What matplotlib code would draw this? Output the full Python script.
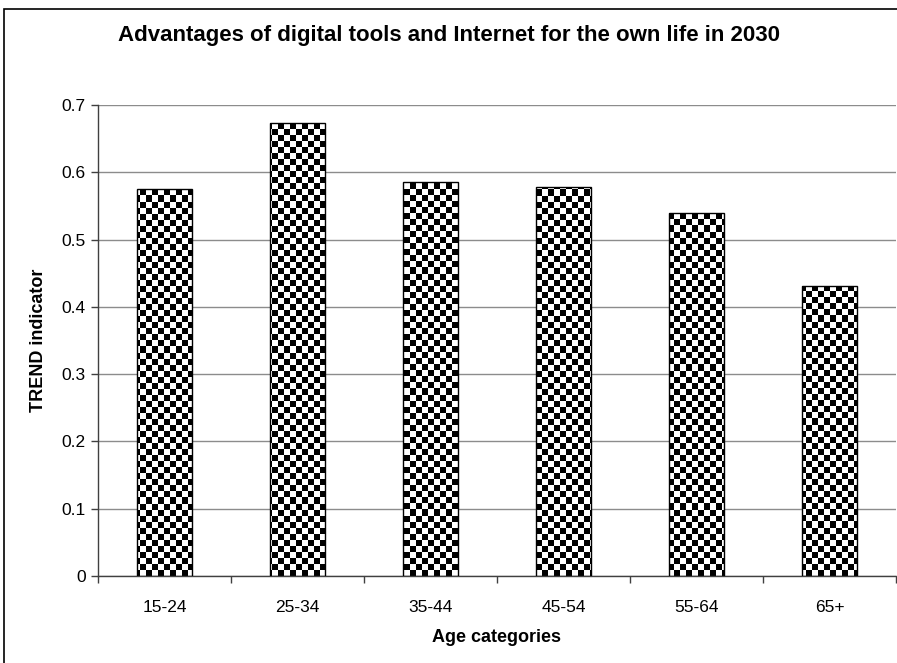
import numpy as np
import matplotlib.pyplot as plt
from matplotlib.patches import Rectangle

plt.rcParams['font.family'] = ['Liberation Sans', 'DejaVu Sans']

# data
categories = ['15-24', '25-34', '35-44', '45-54', '55-64', '65+']
trend = [0.575, 0.673, 0.586, 0.578, 0.539, 0.431]

W, H = 897, 663
fig = plt.figure(figsize=(W / 100, H / 100), dpi=100)
ax = fig.add_axes([98 / W, 1 - 576 / H, 798 / W, 471 / H])

x = np.arange(len(categories))
bars = ax.bar(x, trend, width=0.41, color='none', edgecolor='black', linewidth=1.0, zorder=3)

# checkerboard texture, clipped to each bar
sq = 6.0
ncol = int(798 / sq)
nrow = int(471 / sq)
ii, jj = np.indices((nrow, ncol))
checker = ((ii + jj) % 2).astype(float)
for b in bars:
    im = ax.imshow(checker, cmap='gray', vmin=0, vmax=1, interpolation='nearest',
                   extent=(-0.5, len(categories) - 0.5, 0, 0.7), aspect='auto',
                   origin='lower', zorder=2)
    im.set_clip_path(b)
ax.set_xlim(-0.5, len(categories) - 0.5)
ax.set_ylim(0, 0.7)

ax.set_yticks(np.arange(0, 0.71, 0.1))
ax.set_yticklabels(['0', '0.1', '0.2', '0.3', '0.4', '0.5', '0.6', '0.7'])
ax.yaxis.grid(True, color='#8c8c8c', linewidth=1.0, zorder=0)
ax.set_axisbelow(True)

ax.set_xticks(np.arange(-0.5, len(categories), 1.0))
ax.set_xticklabels([])
ax.set_xticks(x, minor=True)
ax.set_xticklabels(categories, minor=True)
ax.tick_params(axis='x', which='minor', length=0, pad=17, labelsize=12.5)
ax.tick_params(axis='x', which='major', length=5, width=1, direction='out', color='#404040')
ax.tick_params(axis='y', length=5, width=1, direction='out', color='#404040', labelsize=12.5, pad=4)

for s in ['top', 'right']:
    ax.spines[s].set_visible(False)
for s in ['left', 'bottom']:
    ax.spines[s].set_color('#404040')
    ax.spines[s].set_linewidth(1.0)

ax.set_ylabel('TREND indicator', fontsize=13, fontweight='bold', labelpad=10)
ax.set_xlabel('Age categories', fontsize=13, fontweight='bold', labelpad=10)

fig.text(0.5, 1 - 36 / H, 'Advantages of digital tools and Internet for the own life in 2030',
         ha='center', va='center', fontsize=16, fontweight='bold')

# outer chart frame
fig.patches.append(Rectangle((4 / W, 0 - 0.01), 1.0, 1 - 9 / H + 0.01, transform=fig.transFigure,
                             fill=False, edgecolor='black', linewidth=1.2))

fig.savefig('out.png', dpi=100)
